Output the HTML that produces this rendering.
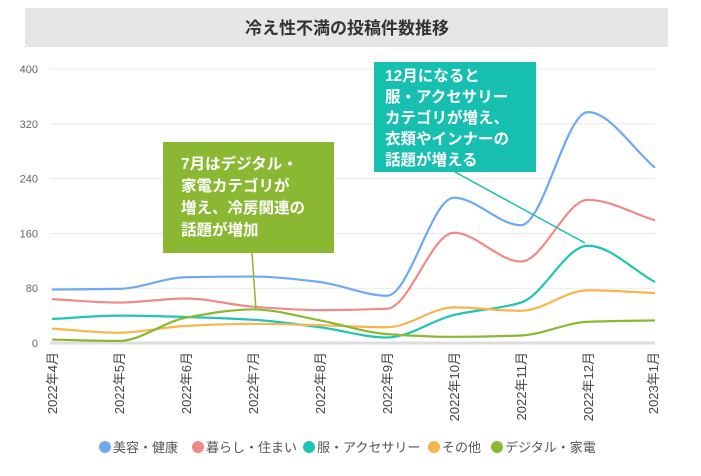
<!DOCTYPE html>
<html><head><meta charset="utf-8"><style>
body{margin:0;background:#fff;width:701px;height:471px;overflow:hidden;font-family:"Liberation Sans","Noto Sans CJK JP",sans-serif}
</style></head><body>
<svg width="701" height="471" xmlns="http://www.w3.org/2000/svg" font-family="Liberation Sans, Noto Sans CJK JP, sans-serif">
<rect x="25" y="8" width="643" height="39" fill="#e6e6e6"/>
<text x="347" y="34" text-anchor="middle" font-size="17" font-weight="bold" fill="#333">冷え性不満の投稿件数推移</text>
<g id="grid"></g><g id="lines"></g>
<g>
<line x1="252" y1="253" x2="256" y2="310" stroke="#8ab832" stroke-width="1.5"/>
<rect x="163" y="142" width="171" height="111" fill="#8ab832"/>
<text fill="#fff" font-size="15.5" font-weight="bold"><tspan x="181" y="169">7月はデジタル・</tspan><tspan x="181" y="191">家電カテゴリが</tspan><tspan x="181" y="213">増え、冷房関連の</tspan><tspan x="181" y="235">話題が増加</tspan></text>
</g>
<g>
<line x1="455" y1="172" x2="585" y2="243" stroke="#17bfb0" stroke-width="1.5"/>
<rect x="374" y="62" width="162" height="110" fill="#17bfb0"/>
<text fill="#fff" font-size="15.5" font-weight="bold"><tspan x="385" y="81">12月になると</tspan><tspan x="385" y="102">服・アクセサリー</tspan><tspan x="385" y="123">カテゴリが増え、</tspan><tspan x="385" y="144">衣類やインナーの</tspan><tspan x="385" y="165">話題が増える</tspan></text>
</g>
<g id="legend"></g>
</svg>
<script>
const categories=["2022年4月","2022年5月","2022年6月","2022年7月","2022年8月","2022年9月","2022年10月","2022年11月","2022年12月","2023年1月"];
const yTicks=[0,80,160,240,320,400];
const seriesNames=["美容・健康","暮らし・住まい","服・アクセサリー","その他","デジタル・家電"];
const seriesColors=["#6fa8f5","#f08a87","#1fc4b4","#f7b54b","#8ab832"];
const beauty=[78,79,96,97,89,69,212,172,337,256];
const living=[64,59,65,53,48,50,161,119,209,179];
const fashion=[35,40,38,34,23,8,41,59,142,89];
const other=[21,15,25,28,26,23,52,47,77,73];
const digital=[5,3,37,49,33,13,9,11,31,33];
const seriesData=[beauty,living,fashion,other,digital];
const NS="http://www.w3.org/2000/svg";
const x=i=>52+i*67, y=v=>343-v*0.685;
const grid=document.getElementById('grid');
function el(t,a,p){const e=document.createElementNS(NS,t);for(const k in a)e.setAttribute(k,a[k]);p.appendChild(e);return e;}
yTicks.forEach(t=>{
 const l=el('line',{x1:50,x2:655,y1:y(t),y2:y(t),stroke:t===0?'#ddd':'#e8e8e8','stroke-width':t===0?3:1},grid);
 
 
 const tx=el('text',{x:38,y:y(t)+4,'text-anchor':'end','font-size':11,fill:'#666'},grid);tx.textContent=t;
 
 
});
categories.forEach((c,i)=>{
 const tx=el('text',{transform:`translate(${Math.min(x(i),653)+5},352) rotate(-90)`,'text-anchor':'end','font-size':13,fill:'#444'},grid);tx.textContent=c;
 
 
});
const lines=document.getElementById('lines');
seriesData.forEach((d,s)=>{
 const p=d.map((v,i)=>[x(i),y(v)]);
 const n=p.length,h=67;
 const del=[];for(let i=0;i<n-1;i++)del.push((p[i+1][1]-p[i][1])/h);
 const m=[];
 for(let i=0;i<n;i++){
  if(i===0)m.push(del[0]);else if(i===n-1)m.push(del[n-2]);
  else if(del[i-1]*del[i]<=0)m.push(0);
  else m.push(2/(1/del[i-1]+1/del[i]));
 }
 let path=`M${p[0][0]},${p[0][1]}`;
 for(let i=0;i<n-1;i++){
  path+=` C${p[i][0]+h/3},${p[i][1]+m[i]*h/3} ${p[i+1][0]-h/3},${p[i+1][1]-m[i+1]*h/3} ${p[i+1][0]},${p[i+1][1]}`;
 }
 const e=el('path',{d:path,fill:'none',stroke:seriesColors[s],'stroke-width':2.2},lines);
 
 
});
const lg=document.getElementById('legend');
const lxs=[105,198,309,434,497];
seriesNames.forEach((n,i)=>{
 const lx=lxs[i];
 const c=el('circle',{cx:lx,cy:447,r:6,fill:seriesColors[i]},lg);
 
 
 const t=el('text',{x:lx+8,y:452,'font-size':13,fill:'#555'},lg);t.textContent=n;
 
 
});
</script>
</body></html>
